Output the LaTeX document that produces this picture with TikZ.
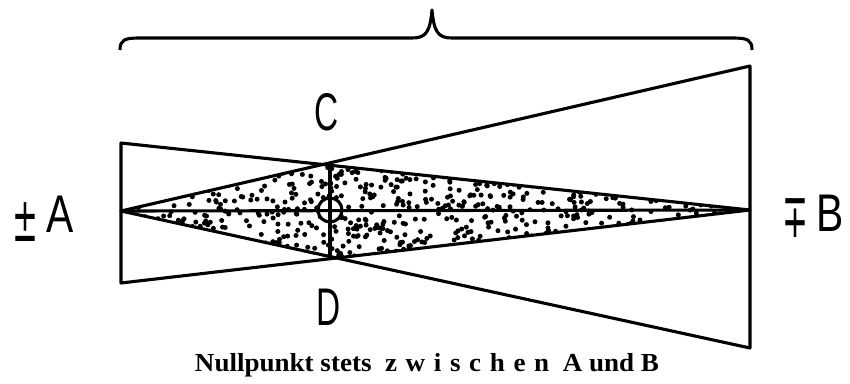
\documentclass[tikz,border=0pt]{standalone}
\usepackage{fontspec}
\setmainfont{Liberation Serif}
\setsansfont{Liberation Sans}
\newfontfamily\signfont{DejaVu Sans}
\usetikzlibrary{calc,positioning}

\begin{document}
\begin{tikzpicture}[x=1pt,y=-1pt,line width=3.1pt,line join=round]
  \tikzset{letter/.style={font=\sffamily\fontsize{53}{53}\selectfont,inner sep=0pt}}
  \tikzset{sign/.style={font=\signfont\fontsize{62}{62}\selectfont,inner sep=0pt,xscale=0.5,anchor=base east}}
  \tikzset{caption/.style={font=\bfseries\fontsize{26}{26}\selectfont,inner sep=0pt}}
  \useasboundingbox (0,0) rectangle (850,383);
  % corner points
  \coordinate (A) at (121,211);
  \coordinate (B) at (750,210);
  \coordinate (C) at (330,164);
  \coordinate (D) at (330,258);
  \coordinate (O) at (330,210);
  \coordinate (Atop) at (121,143);
  \coordinate (Abot) at (121,283);
  \coordinate (Btop) at (750,66);
  \coordinate (Bbot) at (750,348);
  % stipple
  \begin{scope}
    \clip (A) -- (C) -- (B) -- (D) -- cycle;
    \pgfmathsetseed{7}
    \foreach \i in {1,...,800}{
      \pgfmathsetmacro\px{121+629*rnd}
      \pgfmathsetmacro\py{164+94*rnd}
      \fill (\px,\py) circle (2.5);
    }
  \end{scope}
  \fill[white] (O) circle (12);
  % triangles
  \draw (Atop) -- (Abot) -- (B) -- cycle;
  \draw (Btop) -- (Bbot) -- (A) -- cycle;
  \draw (A) -- (B);
  \draw (C) -- (D);
  \draw (O) circle (12);
  % brace
  \draw (120,50) .. controls (120,40) and (124,38) .. (140,38)
    -- (412,38) .. controls (426,38) and (430,32) .. (432,10)
    .. controls (434,32) and (438,38) .. (452,38)
    -- (732,38) .. controls (748,38) and (752,40) .. (752,50);
  % labels
  \node[letter,xscale=0.63] (labC) at (327,112) {C};
  \node[letter,xscale=0.63] (labD) at (329,307) {D};
  \node[letter,xscale=0.77] (labA) at (60,214) {A};
  \node[sign] (pmA) at ($(labA.base west)+(-6,9)$) {±};
  \node[letter,xscale=0.77] (labB) at (830,213) {B};
  \node[sign] (mpB) at ($(labB.base west)+(-6,6)$) {∓};
  \node[caption,xscale=1.04] (cap) at (427,365) {Nullpunkt stets\hspace{0.5em}z\hspace{0.32em}w\hspace{0.32em}i\hspace{0.32em}s\hspace{0.32em}c\hspace{0.32em}h\hspace{0.32em}e\hspace{0.32em}n\hspace{0.5em}A und B};
\end{tikzpicture}
\end{document}
